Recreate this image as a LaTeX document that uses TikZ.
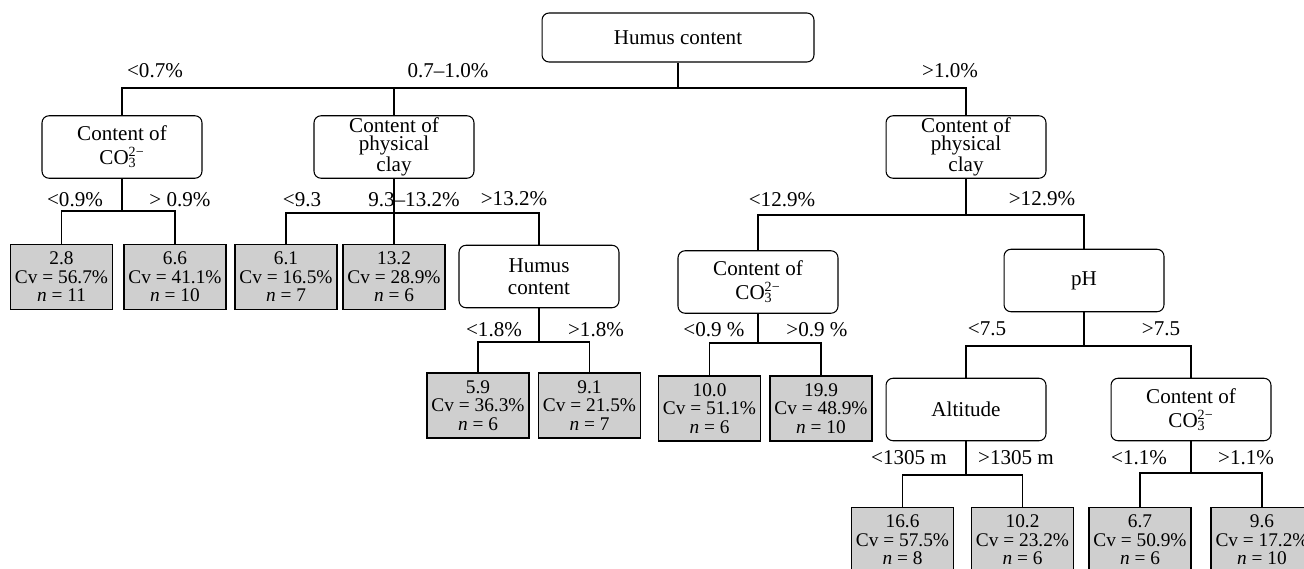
\documentclass[tikz,border=0pt]{standalone}
\usepackage{fontspec}
\setmainfont{Liberation Serif}
\usepackage{tikz}
\definecolor{leafgray}{HTML}{CFCFCF}
\tikzset{
  split/.style={draw=black, line width=0.6pt, rounded corners=4pt, align=center,
    minimum width=3.2cm, minimum height=1.25cm, inner sep=1pt,
    font=\fontsize{12}{10.5}\selectfont},
  rootbox/.style={split, minimum width=5.44cm, minimum height=0.98cm},
  leaf/.style={draw=black, fill=leafgray, line width=1.1pt, align=center,
    minimum width=2.04cm, minimum height=1.3cm, inner sep=1pt,
    font=\fontsize{11}{10.5}\selectfont},
  edge/.style={draw=black, line width=1.1pt},
  lbl/.style={font=\fontsize{12}{12}\selectfont, inner sep=0pt}
}
\newcommand{\carbonate}{CO\rlap{\textsubscript{3}}\textsuperscript{2−}}
\newcommand{\leafval}[3]{#1\\Cv = #2\%\\\textit{n} = #3}

\begin{document}
\begin{tikzpicture}[x=0.02cm, y=-0.02cm]
  \useasboundingbox (0,0) rectangle (1304,568);

  % split nodes
  \node[rootbox] (hum) at (678,37.5) {Humus content};
  \node[split] (coa) at (122,147) {Content of\\[3pt]\carbonate};
  \node[split] (cla) at (394,147) {Content of\\physical\\clay};
  \node[split] (clb) at (966,147) {Content of\\physical\\clay};
  \node[split] (humb) at (539,276.5) {Humus\\[2pt]content};
  \node[split] (cob) at (758,282) {Content of\\[3pt]\carbonate};
  \node[split] (ph) at (1084,280.5) {pH};
  \node[split] (alt) at (966,409.5) {Altitude};
  \node[split] (coc) at (1191,409.5) {Content of\\[3pt]\carbonate};

  % leaves
  \node[leaf] (lfa) at (61.5,277) {\leafval{2.8}{56.7}{11}};
  \node[leaf] (lfb) at (175,277) {\leafval{6.6}{41.1}{10}};
  \node[leaf] (lfc) at (286,277) {\leafval{6.1}{16.5}{7}};
  \node[leaf] (lfd) at (394,277) {\leafval{13.2}{28.9}{6}};
  \node[leaf] (lfe) at (478,405.5) {\leafval{5.9}{36.3}{6}};
  \node[leaf] (lff) at (589.5,405.5) {\leafval{9.1}{21.5}{7}};
  \node[leaf] (lfg) at (709.5,408.5) {\leafval{10.0}{51.1}{6}};
  \node[leaf] (lfh) at (821,408.5) {\leafval{19.9}{48.9}{10}};
  \node[leaf] (lfi) at (902.5,540) {\leafval{16.6}{57.5}{8}};
  \node[leaf] (lfj) at (1022.5,540) {\leafval{10.2}{23.2}{6}};
  \node[leaf] (lfk) at (1140,540) {\leafval{6.7}{50.9}{6}};
  \node[leaf] (lfl) at (1262,540) {\leafval{9.6}{17.2}{10}};

  % junctions
  \coordinate (j0) at (678,88);
  \coordinate (ja) at (122,211);
  \coordinate (jb) at (394,213);
  \coordinate (jc) at (966,215);
  \coordinate (jd) at (539,342);
  \coordinate (je) at (758,343);
  \coordinate (jf) at (1084,346);
  \coordinate (jg) at (966,475);
  \coordinate (jh) at (1191,473);

  % connectors
  \draw[edge] (hum.south) -- (j0);
  \draw[edge] (coa.north) |- (j0) -| (clb.north);
  \draw[edge] (cla.north) -- (cla.north |- j0);
  \draw[edge] (coa.south) -- (ja);
  \draw[edge] (lfa.north) |- (ja) -| (lfb.north);
  \draw[edge] (cla.south) -- (lfd.north);
  \draw[edge] (lfc.north) |- (jb) -| (humb.north);
  \draw[edge] (humb.south) -- (jd);
  \draw[edge] (lfe.north) |- (jd) -| (lff.north);
  \draw[edge] (clb.south) -- (jc);
  \draw[edge] (cob.north) |- (jc) -| (ph.north);
  \draw[edge] (cob.south) -- (je);
  \draw[edge] (lfg.north) |- (je) -| (lfh.north);
  \draw[edge] (ph.south) -- (jf);
  \draw[edge] (alt.north) |- (jf) -| (coc.north);
  \draw[edge] (alt.south) -- (jg);
  \draw[edge] (lfi.north) |- (jg) -| (lfj.north);
  \draw[edge] (coc.south) -- (jh);
  \draw[edge] (lfk.north) |- (jh) -| (lfl.north);

  % split labels
  \node[lbl] (ta) at (155,71) {<0.7\%};
  \node[lbl] (tb) at (448,71) {0.7--1.0\%};
  \node[lbl] (tc) at (950,71) {>1.0\%};
  \node[lbl] (td) at (75,200) {<0.9\%};
  \node[lbl] (te) at (180,200) {> 0.9\%};
  \node[lbl] (tf) at (302,200) {<9.3};
  \node[lbl] (tg) at (414,200) {9.3--13.2\%};
  \node[lbl] (th) at (514,199) {>13.2\%};
  \node[lbl] (ti) at (782,200) {<12.9\%};
  \node[lbl] (tj) at (1042,199) {>12.9\%};
  \node[lbl] (tk) at (494,330) {<1.8\%};
  \node[lbl] (tl) at (596,330) {>1.8\%};
  \node[lbl] (tm) at (714,330) {<0.9 \%};
  \node[lbl] (tn) at (817,330) {>0.9 \%};
  \node[lbl] (to) at (987,329) {<7.5};
  \node[lbl] (tp) at (1161,329) {>7.5};
  \node[lbl] (tq) at (909,458) {<1305 m};
  \node[lbl] (tr) at (1016,458) {>1305 m};
  \node[lbl] (ts) at (1139,458) {<1.1\%};
  \node[lbl] (tt) at (1246,458) {>1.1\%};
\end{tikzpicture}
\end{document}
